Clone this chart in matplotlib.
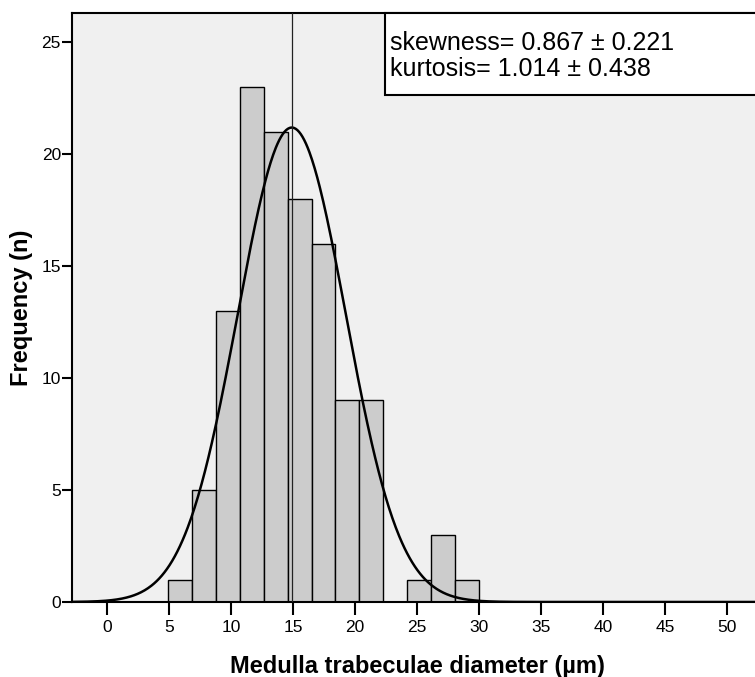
import numpy as np
import matplotlib
matplotlib.use("Agg")
import matplotlib.pyplot as plt

# Data
bin_start = 4.92
bin_width = 1.929
counts = [1, 5, 13, 23, 21, 18, 16, 9, 9, 0, 1, 3, 1]
mean_val = 14.9
sd_val = 4.36
x_ticks = [0, 5, 10, 15, 20, 25, 30, 35, 40, 45, 50]
y_ticks = [0, 5, 10, 15, 20, 25]
stats_text = "skewness= 0.867 \u00b1 0.221\nkurtosis= 1.014 \u00b1 0.438"

plt.rcParams['font.family'] = ['Liberation Sans', 'DejaVu Sans']

W, H = 755, 677
fig = plt.figure(figsize=(W / 100, H / 100), dpi=100)
left_px, right_px, top_px, bot_px = 72, 762, 13, 602
ax = fig.add_axes([left_px / W, 1 - bot_px / H, (right_px - left_px) / W, (bot_px - top_px) / H])
ax.set_facecolor('#F0F0F0')

px_per_x = 12.4
x0_px = 107
ax.set_xlim((left_px - x0_px) / px_per_x, (right_px - x0_px) / px_per_x)
ax.set_ylim(0, (bot_px - top_px) / 22.4)

edges = bin_start + bin_width * np.arange(len(counts) + 1)
for i, c in enumerate(counts):
    if c > 0:
        ax.bar(edges[i], c, width=bin_width, align='edge', color='#CCCCCC',
               edgecolor='black', linewidth=1.0, zorder=2)

N = sum(counts)
xs = np.linspace(ax.get_xlim()[0], ax.get_xlim()[1], 800)
ys = N * bin_width / (sd_val * np.sqrt(2 * np.pi)) * np.exp(-0.5 * ((xs - mean_val) / sd_val) ** 2)
ax.plot(xs, ys, color='black', linewidth=1.8, zorder=3)
ax.axvline(mean_val, color='#222222', linewidth=0.9, zorder=3)

ax.set_xticks(x_ticks)
ax.set_yticks(y_ticks)
ax.tick_params(axis='x', direction='out', length=9, width=1.5, labelsize=12.5, pad=4)
ax.tick_params(axis='y', direction='out', length=7, width=1.5, labelsize=12.5, pad=1)
for s in ax.spines.values():
    s.set_linewidth(1.5)

ax.set_xlabel('Medulla trabeculae diameter (\u00b5m)', fontsize=17, fontweight='bold', labelpad=14)
ax.set_ylabel('Frequency (n)', fontsize=17, fontweight='bold', labelpad=6)

# stats box
bx0 = (385 - left_px) / (right_px - left_px)
by0 = 1 - (95 - top_px) / (bot_px - top_px)
rect = plt.Rectangle((bx0, by0), 1.2 - bx0, 1 - by0, transform=ax.transAxes,
                     facecolor='white', edgecolor='black', linewidth=1.5, zorder=5, clip_on=False)
ax.add_patch(rect)
ax.text((390 - left_px) / (right_px - left_px), 1 - (56 - top_px) / (bot_px - top_px), stats_text,
        transform=ax.transAxes, fontsize=18, va='center', ha='left', linespacing=1.15, zorder=6)

fig.savefig('out.png', dpi=100)
